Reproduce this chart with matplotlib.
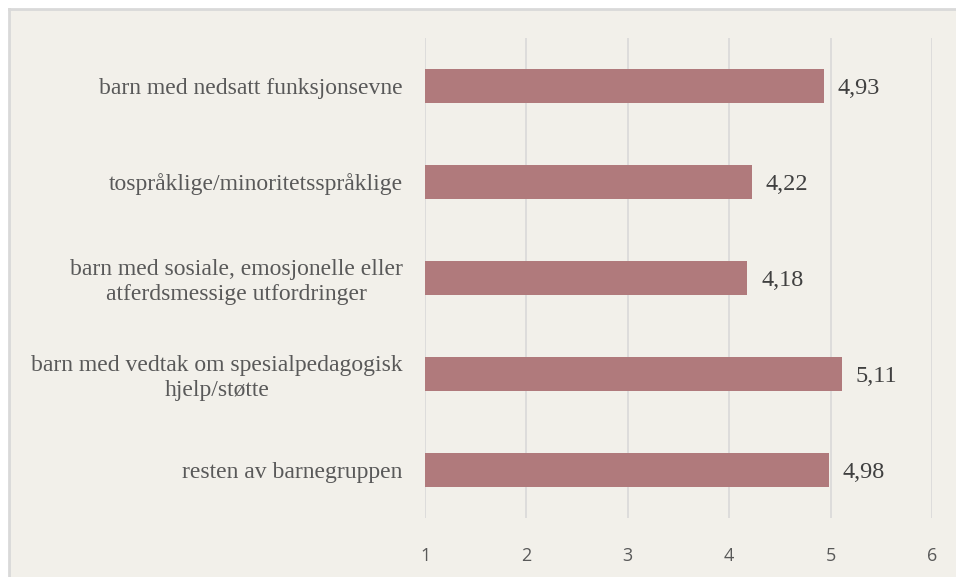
import matplotlib.pyplot as plt
from matplotlib.patches import Rectangle
from matplotlib.lines import Line2D

# Data (top to bottom as shown)
categories = [
    "barn med nedsatt funksjonsevne",
    "tospråklige/minoritetsspråklige",
    "barn med sosiale, emosjonelle eller\natferdsmessige utfordringer",
    "barn med vedtak om spesialpedagogisk\nhjelp/støtte",
    "resten av barnegruppen",
]
values = [4.93, 4.22, 4.18, 5.11, 4.98]
value_labels = ["4,93", "4,22", "4,18", "5,11", "4,98"]
xticks = [1, 2, 3, 4, 5, 6]

bg = "#f2f0ea"
bar_color = "#b07a7c"
text_gray = "#595959"
border = "#d9d9d9"

fig = plt.figure(figsize=(9.56, 5.77), dpi=100, facecolor="white")

# chart background with a border on the top and left edges only
x0, y1 = 9 / 956, 568 / 577
fig.patches.append(Rectangle((x0, 0), 1 - x0, y1, transform=fig.transFigure,
                             facecolor=bg, edgecolor="none", zorder=-2))
fig.lines.append(Line2D([x0, 1], [y1, y1], transform=fig.transFigure,
                        color=border, linewidth=2, zorder=-1))
fig.lines.append(Line2D([x0, x0], [0, y1], transform=fig.transFigure,
                        color=border, linewidth=2, zorder=-1))

ax = fig.add_axes([0.4446, 0.1023, 0.5303, 0.8319])
ax.set_facecolor(bg)
ax.set_zorder(2)

ypos = list(range(len(categories)))[::-1]
base = 1
ax.barh(ypos, [v - base for v in values], left=base, height=0.36,
        color=bar_color, zorder=3)

for y, v, lab in zip(ypos, values, value_labels):
    ax.text(v + 0.135, y, lab, va="center_baseline", ha="left",
            family="Liberation Serif", fontsize=17.5, color="#404040")

ax.set_xlim(1, 6)
ax.set_ylim(-0.5, 4.5)
ax.set_xticks(xticks)
ax.set_xticklabels([str(t) for t in xticks], family="Open Sans",
                   fontsize=13, color=text_gray)
ax.set_yticks(ypos)
ax.set_yticklabels(categories, family="Liberation Serif", fontsize=17,
                   color=text_gray, ha="right", multialignment="center",
                   linespacing=1.25)
ax.tick_params(axis="y", length=0, pad=16)
ax.tick_params(axis="x", length=0, pad=21)

ax.grid(axis="x", color="#d9d9d9", linewidth=1.2, zorder=0)
for s in ax.spines.values():
    s.set_visible(False)

plt.savefig("out.png", dpi=100, facecolor="white")
plt.close()
